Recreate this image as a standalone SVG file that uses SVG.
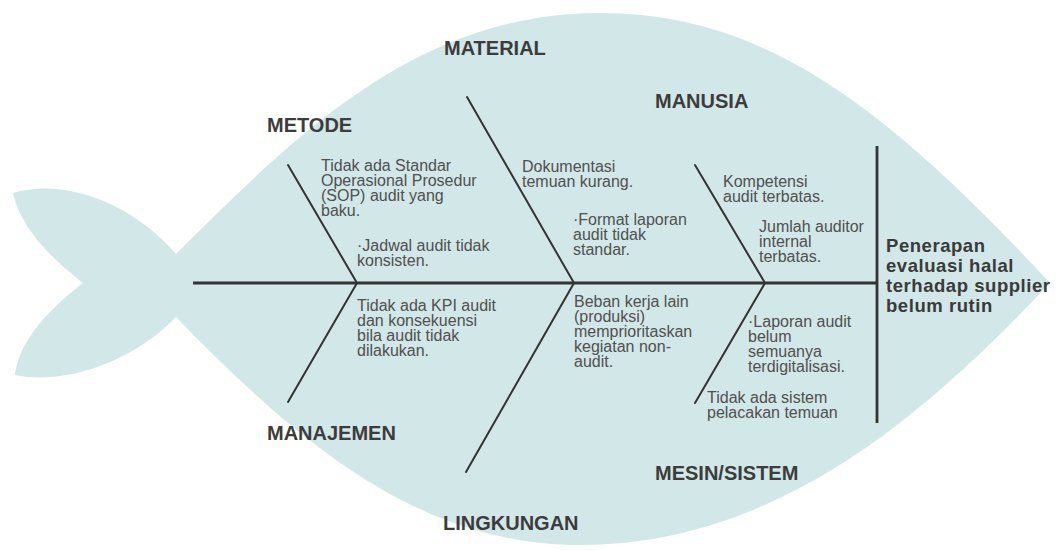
<svg xmlns="http://www.w3.org/2000/svg" width="1057" height="550" viewBox="0 0 1057 550">
  <style>
    .body { fill: #d2e7e7; }
    .bone { stroke: #333333; stroke-width: 2; fill: none; stroke-linecap: round; }
    .spine { stroke: #333333; stroke-width: 2.8; fill: none; }
    .cat { font-family: "Liberation Sans", Arial, sans-serif; font-weight: bold; font-size: 20px; fill: #3c3c3c; }
    .cause { font-family: "Liberation Sans", Arial, sans-serif; font-size: 16px; fill: #505050; }
    .head { font-family: "Liberation Sans", Arial, sans-serif; font-weight: bold; font-size: 18.5px; letter-spacing: 0.55px; fill: #3a3a3a; }
  </style>

  <!-- fish silhouette: tail lobes + lens-shaped body -->
  <path id="fish-body" class="body" d="
    M176,254
    C300,130 420,13 600,13
    C760,13 880,100 1050,283
    C930,410 780,545 580,545
    C420,545 300,445 176,317
    C130,365 60,385 15,375
    C18,350 35,320 83,283
    C35,246 18,216 13,193
    C60,178 130,200 176,254 Z"/>

  <!-- spine, ribs and head line -->
  <g id="connectors">
    <line class="spine" x1="193" y1="283" x2="877" y2="283"/>
    <line class="spine" x1="877" y1="146" x2="877" y2="423"/>
    <line class="bone" x1="288" y1="165" x2="357" y2="283"/>
    <line class="bone" x1="357" y1="283" x2="288" y2="402"/>
    <line class="bone" x1="467" y1="97" x2="574" y2="283"/>
    <line class="bone" x1="574" y1="283" x2="466" y2="472"/>
    <line class="bone" x1="695" y1="165" x2="765" y2="283"/>
    <line class="bone" x1="765" y1="283" x2="695" y2="403"/>
  </g>

  <g id="problem">
    <text class="head">
      <tspan x="886" y="252">Penerapan</tspan>
      <tspan x="886" y="272">evaluasi halal</tspan>
      <tspan x="886" y="292">terhadap supplier</tspan>
      <tspan x="886" y="312">belum rutin</tspan>
    </text>
  </g>

  <g id="metode">
    <text class="cat" x="267" y="132">METODE</text>
    <text class="cause">
      <tspan x="321" y="171">Tidak ada Standar</tspan>
      <tspan x="321" y="186">Operasional Prosedur</tspan>
      <tspan x="321" y="201">(SOP) audit yang</tspan>
      <tspan x="321" y="216">baku.</tspan>
    </text>
    <text class="cause">
      <tspan x="357" y="251">·Jadwal audit tidak</tspan>
      <tspan x="357" y="266">konsisten.</tspan>
    </text>
  </g>

  <g id="manajemen">
    <text class="cat" x="267" y="440">MANAJEMEN</text>
    <text class="cause">
      <tspan x="357" y="311">Tidak ada KPI audit</tspan>
      <tspan x="357" y="326">dan konsekuensi</tspan>
      <tspan x="357" y="341">bila audit tidak</tspan>
      <tspan x="357" y="356">dilakukan.</tspan>
    </text>
  </g>

  <g id="material">
    <text class="cat" x="444" y="55">MATERIAL</text>
    <text class="cause">
      <tspan x="522" y="172">Dokumentasi</tspan>
      <tspan x="522" y="187">temuan kurang.</tspan>
    </text>
    <text class="cause">
      <tspan x="573" y="225">·Format laporan</tspan>
      <tspan x="573" y="240">audit tidak</tspan>
      <tspan x="573" y="255">standar.</tspan>
    </text>
  </g>

  <g id="lingkungan">
    <text class="cat" x="443" y="530">LINGKUNGAN</text>
    <text class="cause">
      <tspan x="574" y="307">Beban kerja lain</tspan>
      <tspan x="574" y="322">(produksi)</tspan>
      <tspan x="574" y="337">memprioritaskan</tspan>
      <tspan x="574" y="352">kegiatan non-</tspan>
      <tspan x="574" y="367">audit.</tspan>
    </text>
  </g>

  <g id="manusia">
    <text class="cat" x="655" y="108">MANUSIA</text>
    <text class="cause">
      <tspan x="723" y="187">Kompetensi</tspan>
      <tspan x="723" y="202">audit terbatas.</tspan>
    </text>
    <text class="cause">
      <tspan x="759" y="232">Jumlah auditor</tspan>
      <tspan x="759" y="247">internal</tspan>
      <tspan x="759" y="262">terbatas.</tspan>
    </text>
  </g>

  <g id="mesin-sistem">
    <text class="cat" x="655" y="480">MESIN/SISTEM</text>
    <text class="cause">
      <tspan x="748" y="327">·Laporan audit</tspan>
      <tspan x="748" y="342">belum</tspan>
      <tspan x="748" y="357">semuanya</tspan>
      <tspan x="748" y="372">terdigitalisasi.</tspan>
    </text>
    <text class="cause">
      <tspan x="707" y="403">Tidak ada sistem</tspan>
      <tspan x="707" y="418">pelacakan temuan</tspan>
    </text>
  </g>
</svg>
